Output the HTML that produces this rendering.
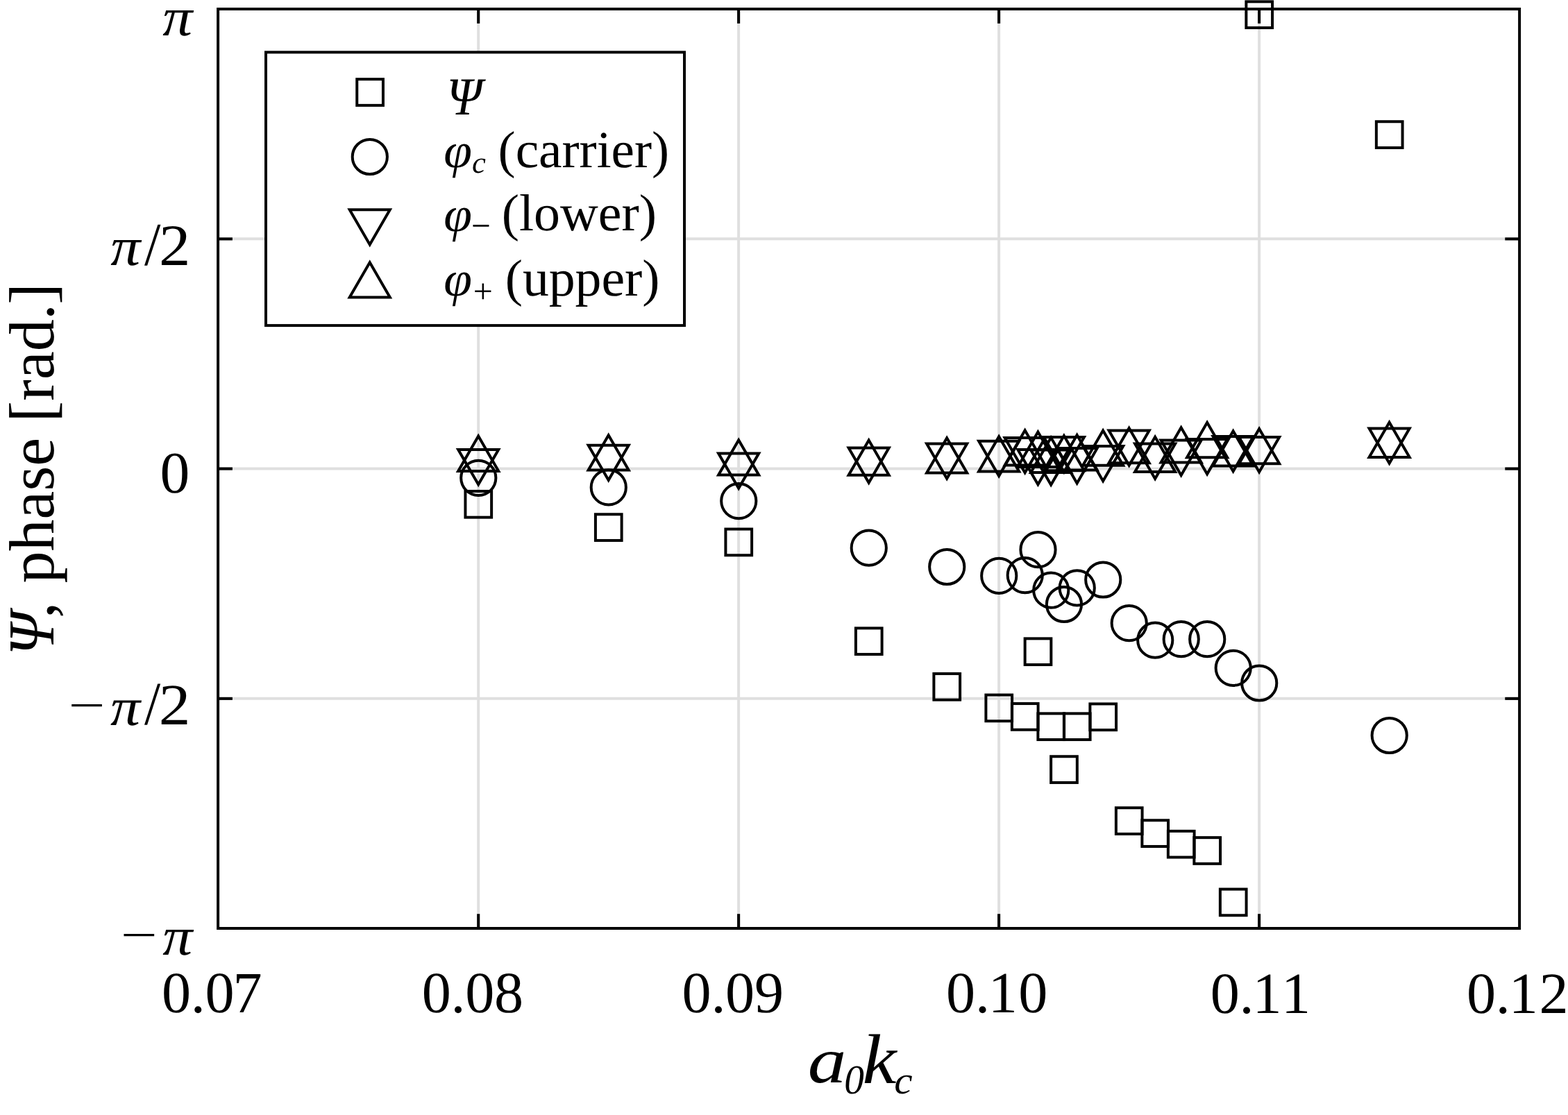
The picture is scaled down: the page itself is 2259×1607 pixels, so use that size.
<!DOCTYPE html>
<html lang="en"><head><meta charset="utf-8"><title>Phase versus steepness</title>
<style>
html,body{margin:0;padding:0;background:#fff;}
body{width:2259px;height:1607px;}
svg{display:block;}
text{font-family:"Liberation Serif","DejaVu Serif",serif;fill:#000;font-kerning:none;font-variant-ligatures:none;text-rendering:geometricPrecision;white-space:pre;}
.i{font-style:italic;}
.mk{fill:none;stroke:#000;stroke-width:4;stroke-linejoin:miter;stroke-miterlimit:10;}
.ax{fill:none;stroke:#000;stroke-width:4;}
.gr{stroke:#dfdfdf;stroke-width:4;fill:none;}
.tk{stroke:#000;stroke-width:4.1;fill:none;}
</style></head><body>
<svg width="2259" height="1607" viewBox="0 0 2259 1607">
<rect x="0" y="0" width="2259" height="1607" fill="#fff"/>
<g class="gr">
<line x1="689.2" y1="13" x2="689.2" y2="1338"/>
<line x1="1064.1" y1="13" x2="1064.1" y2="1338"/>
<line x1="1439.1" y1="13" x2="1439.1" y2="1338"/>
<line x1="1814.1" y1="13" x2="1814.1" y2="1338"/>
<line x1="314.1" y1="344.35" x2="2189.1" y2="344.35"/>
<line x1="314.1" y1="675.55" x2="2189.1" y2="675.55"/>
<line x1="314.1" y1="1006.85" x2="2189.1" y2="1006.85"/>
</g>
<g class="tk">
<line x1="689.2" y1="13" x2="689.2" y2="33.8"/>
<line x1="689.2" y1="1338" x2="689.2" y2="1317.2"/>
<line x1="1064.1" y1="13" x2="1064.1" y2="33.8"/>
<line x1="1064.1" y1="1338" x2="1064.1" y2="1317.2"/>
<line x1="1439.1" y1="13" x2="1439.1" y2="33.8"/>
<line x1="1439.1" y1="1338" x2="1439.1" y2="1317.2"/>
<line x1="1814.1" y1="13" x2="1814.1" y2="33.8"/>
<line x1="1814.1" y1="1338" x2="1814.1" y2="1317.2"/>
<line x1="314.1" y1="344.35" x2="334.9" y2="344.35"/>
<line x1="2189.1" y1="344.35" x2="2168.3" y2="344.35"/>
<line x1="314.1" y1="675.55" x2="334.9" y2="675.55"/>
<line x1="2189.1" y1="675.55" x2="2168.3" y2="675.55"/>
<line x1="314.1" y1="1006.85" x2="334.9" y2="1006.85"/>
<line x1="2189.1" y1="1006.85" x2="2168.3" y2="1006.85"/>
</g>
<g class="mk">
<rect x="670.43" y="707.95" width="37.7" height="37.7"/>
<rect x="857.92" y="741.25" width="37.7" height="37.7"/>
<rect x="1045.41" y="762.55" width="37.7" height="37.7"/>
<rect x="1232.9" y="905.35" width="37.7" height="37.7"/>
<rect x="1345.39" y="970.95" width="37.7" height="37.7"/>
<rect x="1420.39" y="1001.55" width="37.7" height="37.7"/>
<rect x="1457.89" y="1014.05" width="37.7" height="37.7"/>
<rect x="1476.64" y="920.35" width="37.7" height="37.7"/>
<rect x="1495.39" y="1028.35" width="37.7" height="37.7"/>
<rect x="1514.13" y="1090.25" width="37.7" height="37.7"/>
<rect x="1532.88" y="1028.35" width="37.7" height="37.7"/>
<rect x="1570.38" y="1014.45" width="37.7" height="37.7"/>
<rect x="1607.88" y="1164.25" width="37.7" height="37.7"/>
<rect x="1645.38" y="1182.25" width="37.7" height="37.7"/>
<rect x="1682.88" y="1197.85" width="37.7" height="37.7"/>
<rect x="1720.37" y="1207.15" width="37.7" height="37.7"/>
<rect x="1757.87" y="1281.55" width="37.7" height="37.7"/>
<rect x="1795.37" y="2.35" width="37.7" height="37.7"/>
<rect x="1982.86" y="175.25" width="37.7" height="37.7"/>
<circle cx="689.28" cy="688.8" r="25.1"/>
<circle cx="876.77" cy="702.4" r="25.1"/>
<circle cx="1064.26" cy="722.1" r="25.1"/>
<circle cx="1251.75" cy="789.7" r="25.1"/>
<circle cx="1364.24" cy="817" r="25.1"/>
<circle cx="1439.24" cy="829.9" r="25.1"/>
<circle cx="1476.74" cy="829.1" r="25.1"/>
<circle cx="1495.49" cy="792.2" r="25.1"/>
<circle cx="1514.24" cy="850.7" r="25.1"/>
<circle cx="1532.98" cy="871" r="25.1"/>
<circle cx="1551.73" cy="847.4" r="25.1"/>
<circle cx="1589.23" cy="835.5" r="25.1"/>
<circle cx="1626.73" cy="898.05" r="25.1"/>
<circle cx="1664.23" cy="922.7" r="25.1"/>
<circle cx="1701.73" cy="921.2" r="25.1"/>
<circle cx="1739.22" cy="921.2" r="25.1"/>
<circle cx="1776.72" cy="962.8" r="25.1"/>
<circle cx="1814.22" cy="984.5" r="25.1"/>
<circle cx="2001.71" cy="1060" r="25.1"/>
<path d="M689.18 698.3L718.22 648L660.14 648Z"/>
<path d="M876.67 692.1L905.71 641.8L847.63 641.8Z"/>
<path d="M1064.16 703.8L1093.2 653.5L1035.12 653.5Z"/>
<path d="M1251.65 695.8L1280.69 645.5L1222.61 645.5Z"/>
<path d="M1364.14 689.8L1393.18 639.5L1335.1 639.5Z"/>
<path d="M1439.14 686.1L1468.18 635.8L1410.1 635.8Z"/>
<path d="M1476.64 681.3L1505.68 631L1447.6 631Z"/>
<path d="M1495.39 698.3L1524.43 648L1466.35 648Z"/>
<path d="M1514.14 698.8L1543.18 648.5L1485.1 648.5Z"/>
<path d="M1532.88 680.2L1561.93 629.9L1503.84 629.9Z"/>
<path d="M1551.63 696.4L1580.67 646.1L1522.59 646.1Z"/>
<path d="M1589.13 693.2L1618.17 642.9L1560.09 642.9Z"/>
<path d="M1626.63 670.7L1655.67 620.4L1597.59 620.4Z"/>
<path d="M1664.13 689.9L1693.17 639.6L1635.09 639.6Z"/>
<path d="M1701.63 684.9L1730.67 634.6L1672.59 634.6Z"/>
<path d="M1739.12 683.2L1768.16 632.9L1710.08 632.9Z"/>
<path d="M1776.62 679.3L1805.66 629L1747.58 629Z"/>
<path d="M1814.12 680.3L1843.16 630L1785.08 630Z"/>
<path d="M2001.61 667.8L2030.65 617.5L1972.57 617.5Z"/>
<path d="M689.18 628.6L718.22 678.9L660.14 678.9Z"/>
<path d="M876.67 627.3L905.71 677.6L847.63 677.6Z"/>
<path d="M1064.16 634.3L1093.2 684.6L1035.12 684.6Z"/>
<path d="M1251.65 634.5L1280.69 684.8L1222.61 684.8Z"/>
<path d="M1364.14 631.3L1393.18 681.6L1335.1 681.6Z"/>
<path d="M1439.14 629.2L1468.18 679.5L1410.1 679.5Z"/>
<path d="M1476.64 620.2L1505.68 670.5L1447.6 670.5Z"/>
<path d="M1495.39 622.6L1524.43 672.9L1466.35 672.9Z"/>
<path d="M1514.14 630.8L1543.18 681.1L1485.1 681.1Z"/>
<path d="M1532.88 627.9L1561.93 678.2L1503.84 678.2Z"/>
<path d="M1551.63 627.1L1580.67 677.4L1522.59 677.4Z"/>
<path d="M1589.13 620.5L1618.17 670.8L1560.09 670.8Z"/>
<path d="M1626.63 617L1655.67 667.3L1597.59 667.3Z"/>
<path d="M1664.13 629.8L1693.17 680.1L1635.09 680.1Z"/>
<path d="M1701.63 616.3L1730.67 666.6L1672.59 666.6Z"/>
<path d="M1739.12 608.9L1768.16 659.2L1710.08 659.2Z"/>
<path d="M1776.62 621.3L1805.66 671.6L1747.58 671.6Z"/>
<path d="M1814.12 617.9L1843.16 668.2L1785.08 668.2Z"/>
<path d="M2001.61 608.63L2030.65 658.93L1972.57 658.93Z"/>
</g>
<rect class="ax" x="314.1" y="13" width="1875" height="1325"/>
<rect x="383" y="75.3" width="603" height="393.8" fill="#fff" stroke="#000" stroke-width="4"/>
<g class="mk">
<rect x="514.25" y="114.15" width="37.7" height="37.7"/>
<circle cx="532.8" cy="226" r="25.1"/>
<path d="M532.75 352.6L561.79 302.3L503.71 302.3Z"/>
<path d="M532.75 378.2L561.79 428.5L503.71 428.5Z"/>
</g>
<g id="legend-text">
<text><tspan class="i" font-size="76.97" x="643.51" y="165.1" textLength="50.946" lengthAdjust="spacingAndGlyphs">Ψ</tspan></text>
<text><tspan class="i" font-size="71.29" x="639.31" y="241.32" textLength="40.703" lengthAdjust="spacingAndGlyphs">φ</tspan><tspan class="i" font-size="43.66" x="680.02" y="249.27" textLength="19.857" lengthAdjust="spacingAndGlyphs">c</tspan><tspan font-size="75" x="698.76" y="241.2" textLength="265.449" lengthAdjust="spacingAndGlyphs"> (carrier)</tspan></text>
<text><tspan class="i" font-size="71.29" x="639.31" y="332.62" textLength="40.703" lengthAdjust="spacingAndGlyphs">φ</tspan><tspan font-size="56.22" x="678.94" y="344.27" textLength="27.875" lengthAdjust="spacingAndGlyphs">−</tspan><tspan font-size="75" x="703.7" y="332" textLength="242.235" lengthAdjust="spacingAndGlyphs"> (lower)</tspan></text>
<text><tspan class="i" font-size="71.29" x="639.31" y="425.62" textLength="40.703" lengthAdjust="spacingAndGlyphs">φ</tspan><tspan font-size="48.73" x="681.82" y="435.53" textLength="28.118" lengthAdjust="spacingAndGlyphs">+</tspan><tspan font-size="75" x="708.74" y="425.5" textLength="241.788" lengthAdjust="spacingAndGlyphs"> (upper)</tspan></text>
</g>
<g id="ytick-labels">
<text><tspan class="i" font-size="78.51" x="234.34" y="51.03" textLength="42.992" lengthAdjust="spacingAndGlyphs">π</tspan></text>
<text><tspan class="i" font-size="78.61" x="159.19" y="382.28" textLength="43.04" lengthAdjust="spacingAndGlyphs">π</tspan><tspan font-size="88.42" x="208" y="382.19" textLength="23.4" lengthAdjust="spacingAndGlyphs">/</tspan><tspan font-size="84.43" x="229.01" y="381.6" textLength="45.4" lengthAdjust="spacingAndGlyphs">2</tspan></text>
<text><tspan font-size="84.91" x="230.64" y="709.97" textLength="42.824" lengthAdjust="spacingAndGlyphs">0</tspan></text>
<text><tspan font-size="64.25" x="98.62" y="1037.83" textLength="53.023" lengthAdjust="spacingAndGlyphs">−</tspan><tspan class="i" font-size="77.23" x="159.14" y="1044.55" textLength="43.088" lengthAdjust="spacingAndGlyphs">π</tspan><tspan font-size="88.65" x="208.1" y="1044.43" textLength="23.2" lengthAdjust="spacingAndGlyphs">/</tspan><tspan font-size="84.13" x="228.89" y="1043.9" textLength="45.65" lengthAdjust="spacingAndGlyphs">2</tspan></text>
<text><tspan font-size="64.25" x="173.82" y="1368.83" textLength="53.023" lengthAdjust="spacingAndGlyphs">−</tspan><tspan class="i" font-size="78.29" x="234.34" y="1376.04" textLength="42.992" lengthAdjust="spacingAndGlyphs">π</tspan></text>
</g>
<g id="xtick-labels">
<text><tspan font-size="84.2" x="232.88 274.7 295.38 335.49" y="1458.8">0.07</tspan></text>
<text><tspan font-size="84.2" x="607.78 649.6 670.28 711.95" y="1458.8">0.08</tspan></text>
<text><tspan font-size="84.2" x="982.58 1024.4 1045.08 1087.12" y="1458.8">0.09</tspan></text>
<text><tspan font-size="84.2" x="1363.08 1404.9 1423.79 1467.25" y="1458.8">0.10</tspan></text>
<text><tspan font-size="84.2" x="1743.68 1785.5 1804.39 1846.05" y="1459.9">0.11</tspan></text>
<text><tspan font-size="84.2" x="2112.98 2154.8 2173.69 2217.62" y="1459.9">0.12</tspan></text>
</g>
<text><tspan class="i" font-size="93.25" x="1163.69" y="1559.79" textLength="55.592" lengthAdjust="spacingAndGlyphs">a</tspan><tspan class="i" font-size="59.5" x="1216.15" y="1576.37" textLength="28.581" lengthAdjust="spacingAndGlyphs">0</tspan><tspan class="i" font-size="101.75" x="1242.62" y="1560.5" textLength="48.962" lengthAdjust="spacingAndGlyphs">k</tspan><tspan class="i" font-size="55.83" x="1288.27" y="1576.4" textLength="26.365" lengthAdjust="spacingAndGlyphs">c</tspan></text>
<text transform="translate(77.2 938.5) rotate(-90)"><tspan class="i" font-size="94.53" x="-6.23" y="-0.4" textLength="62.268" lengthAdjust="spacingAndGlyphs">Ψ</tspan><tspan font-size="92.1" x="47.83" y="0">, </tspan><tspan font-size="92.1" x="97.93" y="0">phase </tspan><tspan font-size="92.1" x="330.11" y="0">[rad</tspan><tspan font-size="92.1" x="477.59" y="0">.</tspan><tspan font-size="92.1" x="499.82" y="0">]</tspan></text>
</svg>
</body></html>
